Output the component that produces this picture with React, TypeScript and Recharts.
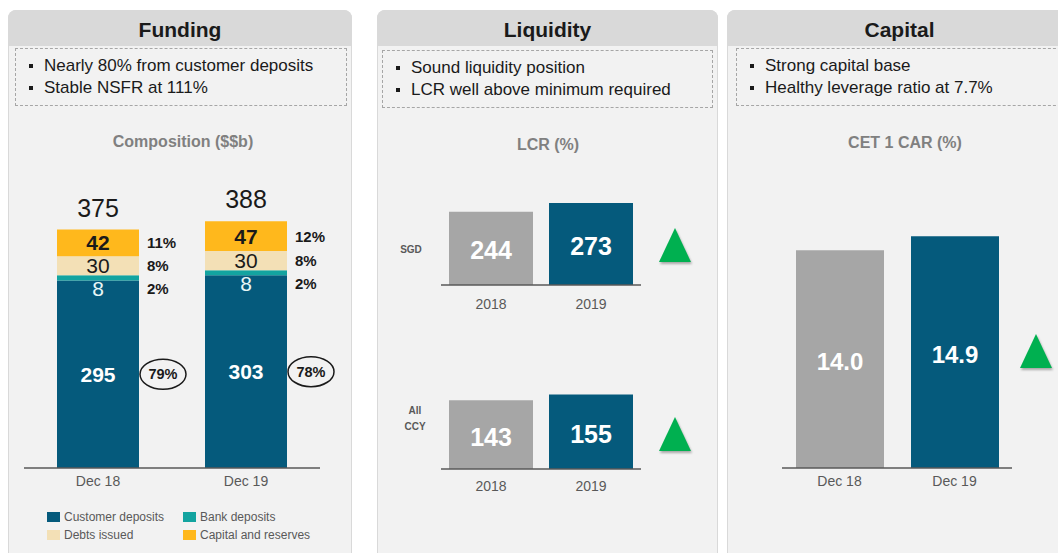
import React from 'react';
import { BarChart, Bar, XAxis, YAxis, LabelList, Cell } from 'recharts';

// Funding composition (S$b)
const fundingPeriods = ['Dec 18', 'Dec 19'];
const customerDeposits = [295, 303];
const bankDeposits = [8, 8];
const debtsIssued = [30, 30];
const capitalReserves = [42, 47];
const customerShare = [79, 78];
const bankShare = [2, 2];
const debtsShare = [8, 8];
const capitalShare = [11, 12];

// Liquidity coverage ratio (%)
const lcrYears = ['2018', '2019'];
const lcrSgd = [244, 273];
const lcrAllCcy = [143, 155];

// CET1 CAR (%)
const carPeriods = ['Dec 18', 'Dec 19'];
const cet1Car = [14.0, 14.9];

const NAVY = '#055a7c';
const TEAL = '#13a4a0';
const BEIGE = '#f3e0b6';
const GOLD = '#ffb81c';
const GREY = '#a6a6a6';
const GREEN = '#00b050';
const INK = '#1a1a1a';
const AXIS = '#595959';
const FONT = '"Liberation Sans", Arial, sans-serif';

const fundingTotals = fundingPeriods.map(
  (_, i) => customerDeposits[i] + bankDeposits[i] + debtsIssued[i] + capitalReserves[i]
);
const fundingData = fundingPeriods.map((period, i) => ({
  period,
  customer: customerDeposits[i],
  bank: bankDeposits[i],
  debts: debtsIssued[i],
  capital: capitalReserves[i],
}));
const sgdData = lcrYears.map((year, i) => ({ year, value: lcrSgd[i] }));
const ccyData = lcrYears.map((year, i) => ({ year, value: lcrAllCcy[i] }));
const carData = carPeriods.map((period, i) => ({ period, value: cet1Car[i] }));

const num = (v: any) => (typeof v === 'number' ? v : parseFloat(v));

function box(props: any) {
  const vb = props.viewBox || {};
  return {
    x: num(props.x ?? vb.x),
    y: num(props.y ?? vb.y),
    w: num(props.width ?? vb.width),
    h: num(props.height ?? vb.height),
    i: props.index ?? 0,
    value: props.value,
  };
}

type SegStyle = {
  fill: string;
  weight: number;
  below?: boolean;
  ring?: boolean;
  total?: boolean;
};

const segmentLabel = (shares: number[], s: SegStyle) => (props: any) => {
  const { x, y, w, h, i, value } = box(props);
  const cy = s.below ? y + h + 8 : y + h / 2;
  const right = x + w;
  return (
    <g>
      <text
        x={x + w / 2}
        y={cy}
        textAnchor="middle"
        dominantBaseline="central"
        fill={s.fill}
        fontSize={21}
        fontWeight={s.weight}
      >
        {value}
      </text>
      {s.ring ? (
        <g>
          <ellipse cx={right + 24} cy={cy} rx={23} ry={15} fill="none" stroke={INK} strokeWidth={1.5} />
          <text
            x={right + 24}
            y={cy}
            textAnchor="middle"
            dominantBaseline="central"
            fill={INK}
            fontSize={14.5}
            fontWeight={700}
          >
            {shares[i]}%
          </text>
        </g>
      ) : (
        <text x={right + 8} y={cy} dominantBaseline="central" fill={INK} fontSize={15} fontWeight={700}>
          {shares[i]}%
        </text>
      )}
      {s.total && (
        <text x={x + w / 2} y={y - 13} textAnchor="middle" fill={INK} fontSize={25}>
          {fundingTotals[i]}
        </text>
      )}
    </g>
  );
};

const valueLabel = (size: number, digits = 0) => (props: any) => {
  const { x, y, w, h, value } = box(props);
  return (
    <text
      x={x + w / 2}
      y={y + h / 2 + 2}
      textAnchor="middle"
      dominantBaseline="central"
      fill="#ffffff"
      fontSize={size}
      fontWeight={700}
    >
      {num(value).toFixed(digits)}
    </text>
  );
};

const UpArrow = ({ left, top }: { left: number; top: number }) => (
  <svg style={{ position: 'absolute', left, top, overflow: 'visible' }} width={32} height={34}>
    <polygon
      points="16,0 32,34 0,34"
      fill={GREEN}
      style={{ filter: 'drop-shadow(1px 2px 1px rgba(0,0,0,0.3))' }}
    />
  </svg>
);

const Bullet = () => (
  <span
    style={{
      position: 'absolute',
      left: -15,
      top: 9,
      width: 4,
      height: 4,
      background: INK,
    }}
  />
);

type PanelProps = {
  left: number;
  width: number;
  title: string;
  bullets: string[];
  boxLeft: number;
  boxWidth: number;
  boxTop: number;
};

const Panel = ({ left, width, title, bullets, boxLeft, boxWidth, boxTop }: PanelProps) => (
  <>
    <div
      style={{
        position: 'absolute',
        left,
        top: 10,
        width,
        height: 600,
        background: '#f2f2f2',
        border: '1px solid #d9d9d9',
        borderRadius: '8px 8px 0 0',
        boxSizing: 'border-box',
      }}
    />
    <div
      style={{
        position: 'absolute',
        left,
        top: 10,
        width,
        height: 36,
        background: '#d9d9d9',
        borderRadius: '8px 8px 0 0',
        textAlign: 'center',
        lineHeight: '40px',
        fontSize: 21,
        fontWeight: 700,
        color: INK,
      }}
    >
      {title}
    </div>
    <div
      style={{
        position: 'absolute',
        left: boxLeft,
        top: boxTop,
        width: boxWidth,
        height: 58,
        border: '1px dashed #a6a6a6',
        boxSizing: 'border-box',
        paddingTop: 6,
      }}
    >
      {bullets.map((b) => (
        <div
          key={b}
          style={{ position: 'relative', marginLeft: 28, fontSize: 17, lineHeight: '22px', color: INK, whiteSpace: 'nowrap' }}
        >
          <Bullet />
          {b}
        </div>
      ))}
    </div>
  </>
);

const Subtitle = ({ cx, cy, text }: { cx: number; cy: number; text: string }) => (
  <div
    style={{
      position: 'absolute',
      left: cx - 120,
      top: cy - 10,
      width: 240,
      textAlign: 'center',
      fontSize: 16,
      lineHeight: '20px',
      fontWeight: 700,
      color: '#808080',
    }}
  >
    {text}
  </div>
);

const legendItems = [
  { label: 'Customer deposits', color: NAVY, x: 47, y: 517 },
  { label: 'Bank deposits', color: TEAL, x: 183, y: 517 },
  { label: 'Debts issued', color: BEIGE, x: 47, y: 535 },
  { label: 'Capital and reserves', color: GOLD, x: 183, y: 535 },
];

const axisTick = { fill: AXIS, fontSize: 14 };

export default function App() {
  return (
    <div
      style={{
        position: 'absolute',
        left: 0,
        top: 0,
        width: 1058,
        height: 553,
        overflow: 'hidden',
        background: '#ffffff',
        fontFamily: FONT,
      }}
    >
      <Panel
        left={8}
        width={344}
        title="Funding"
        bullets={['Nearly 80% from customer deposits', 'Stable NSFR at 111%']}
        boxLeft={15}
        boxWidth={332}
        boxTop={48}
      />
      <Panel
        left={377}
        width={341}
        title="Liquidity"
        bullets={['Sound liquidity position', 'LCR well above minimum required']}
        boxLeft={382}
        boxWidth={331}
        boxTop={50}
      />
      <Panel
        left={727}
        width={345}
        title="Capital"
        bullets={['Strong capital base', 'Healthy leverage ratio at 7.7%']}
        boxLeft={736}
        boxWidth={330}
        boxTop={48}
      />

      <Subtitle cx={183} cy={142} text="Composition ($$b)" />
      <Subtitle cx={548} cy={145} text="LCR (%)" />
      <Subtitle cx={905} cy={143} text="CET 1 CAR (%)" />

      {/* Funding stacked bars */}
      <div style={{ position: 'absolute', left: 8, top: 150 }}>
        <BarChart
          width={344}
          height={348}
          data={fundingData}
          margin={{ top: 0, right: 32, bottom: 0, left: 16 }}
          barSize={82}
        >
          <XAxis
            dataKey="period"
            tickLine={false}
            axisLine={{ stroke: AXIS, strokeWidth: 1.5 }}
            tick={axisTick}
          />
          <YAxis hide domain={[0, 500]} />
          <Bar dataKey="customer" stackId="f" fill={NAVY} isAnimationActive={false}>
            <LabelList dataKey="customer" content={segmentLabel(customerShare, { fill: '#ffffff', weight: 700, ring: true })} />
          </Bar>
          <Bar dataKey="bank" stackId="f" fill={TEAL} isAnimationActive={false}>
            <LabelList dataKey="bank" content={segmentLabel(bankShare, { fill: '#e8f6f6', weight: 400, below: true })} />
          </Bar>
          <Bar dataKey="debts" stackId="f" fill={BEIGE} isAnimationActive={false}>
            <LabelList dataKey="debts" content={segmentLabel(debtsShare, { fill: INK, weight: 400 })} />
          </Bar>
          <Bar dataKey="capital" stackId="f" fill={GOLD} isAnimationActive={false}>
            <LabelList dataKey="capital" content={segmentLabel(capitalShare, { fill: INK, weight: 700, total: true })} />
          </Bar>
        </BarChart>
      </div>

      {legendItems.map((l) => (
        <div key={l.label} style={{ position: 'absolute', left: l.x, top: l.y - 8, height: 16, display: 'flex', alignItems: 'center' }}>
          <span style={{ width: 13, height: 10, background: l.color, marginRight: 4 }} />
          <span style={{ fontSize: 12, color: AXIS }}>{l.label}</span>
        </div>
      ))}

      {/* LCR SGD */}
      <div style={{ position: 'absolute', left: 381, top: 185 }}>
        <BarChart width={330} height={130} data={sgdData} margin={{ top: 10, right: 70, bottom: 0, left: 60 }} barSize={84}>
          <XAxis dataKey="year" tickLine={false} tickMargin={8} axisLine={{ stroke: AXIS, strokeWidth: 1.5 }} tick={axisTick} />
          <YAxis hide domain={[0, 300]} />
          <Bar dataKey="value" isAnimationActive={false}>
            {sgdData.map((d, i) => (
              <Cell key={d.year} fill={i === 0 ? GREY : NAVY} />
            ))}
            <LabelList dataKey="value" content={valueLabel(25)} />
          </Bar>
        </BarChart>
      </div>
      <div style={{ position: 'absolute', left: 391, top: 244, width: 40, textAlign: 'center', fontSize: 10, fontWeight: 700, color: AXIS }}>
        SGD
      </div>
      <UpArrow left={659} top={228} />

      {/* LCR all currencies */}
      <div style={{ position: 'absolute', left: 381, top: 363 }}>
        <BarChart width={330} height={136} data={ccyData} margin={{ top: 10, right: 70, bottom: 0, left: 60 }} barSize={84}>
          <XAxis dataKey="year" tickLine={false} tickMargin={6} axisLine={{ stroke: AXIS, strokeWidth: 1.5 }} tick={axisTick} />
          <YAxis hide domain={[0, 200]} />
          <Bar dataKey="value" isAnimationActive={false}>
            {ccyData.map((d, i) => (
              <Cell key={d.year} fill={i === 0 ? GREY : NAVY} />
            ))}
            <LabelList dataKey="value" content={valueLabel(25)} />
          </Bar>
        </BarChart>
      </div>
      <div style={{ position: 'absolute', left: 395, top: 403, width: 40, textAlign: 'center', fontSize: 10, lineHeight: '16px', fontWeight: 700, color: AXIS }}>
        All
        <br />
        CCY
      </div>
      <UpArrow left={659} top={417} />

      {/* CET1 CAR */}
      <div style={{ position: 'absolute', left: 736, top: 178 }}>
        <BarChart width={322} height={320} data={carData} margin={{ top: 10, right: 46, bottom: 0, left: 46 }} barSize={88}>
          <XAxis dataKey="period" tickLine={false} axisLine={{ stroke: AXIS, strokeWidth: 1.5 }} tick={axisTick} />
          <YAxis hide domain={[0, 18]} />
          <Bar dataKey="value" isAnimationActive={false}>
            {carData.map((d, i) => (
              <Cell key={d.period} fill={i === 0 ? GREY : NAVY} />
            ))}
            <LabelList dataKey="value" content={valueLabel(24, 1)} />
          </Bar>
        </BarChart>
      </div>
      <UpArrow left={1020} top={334} />
    </div>
  );
}
